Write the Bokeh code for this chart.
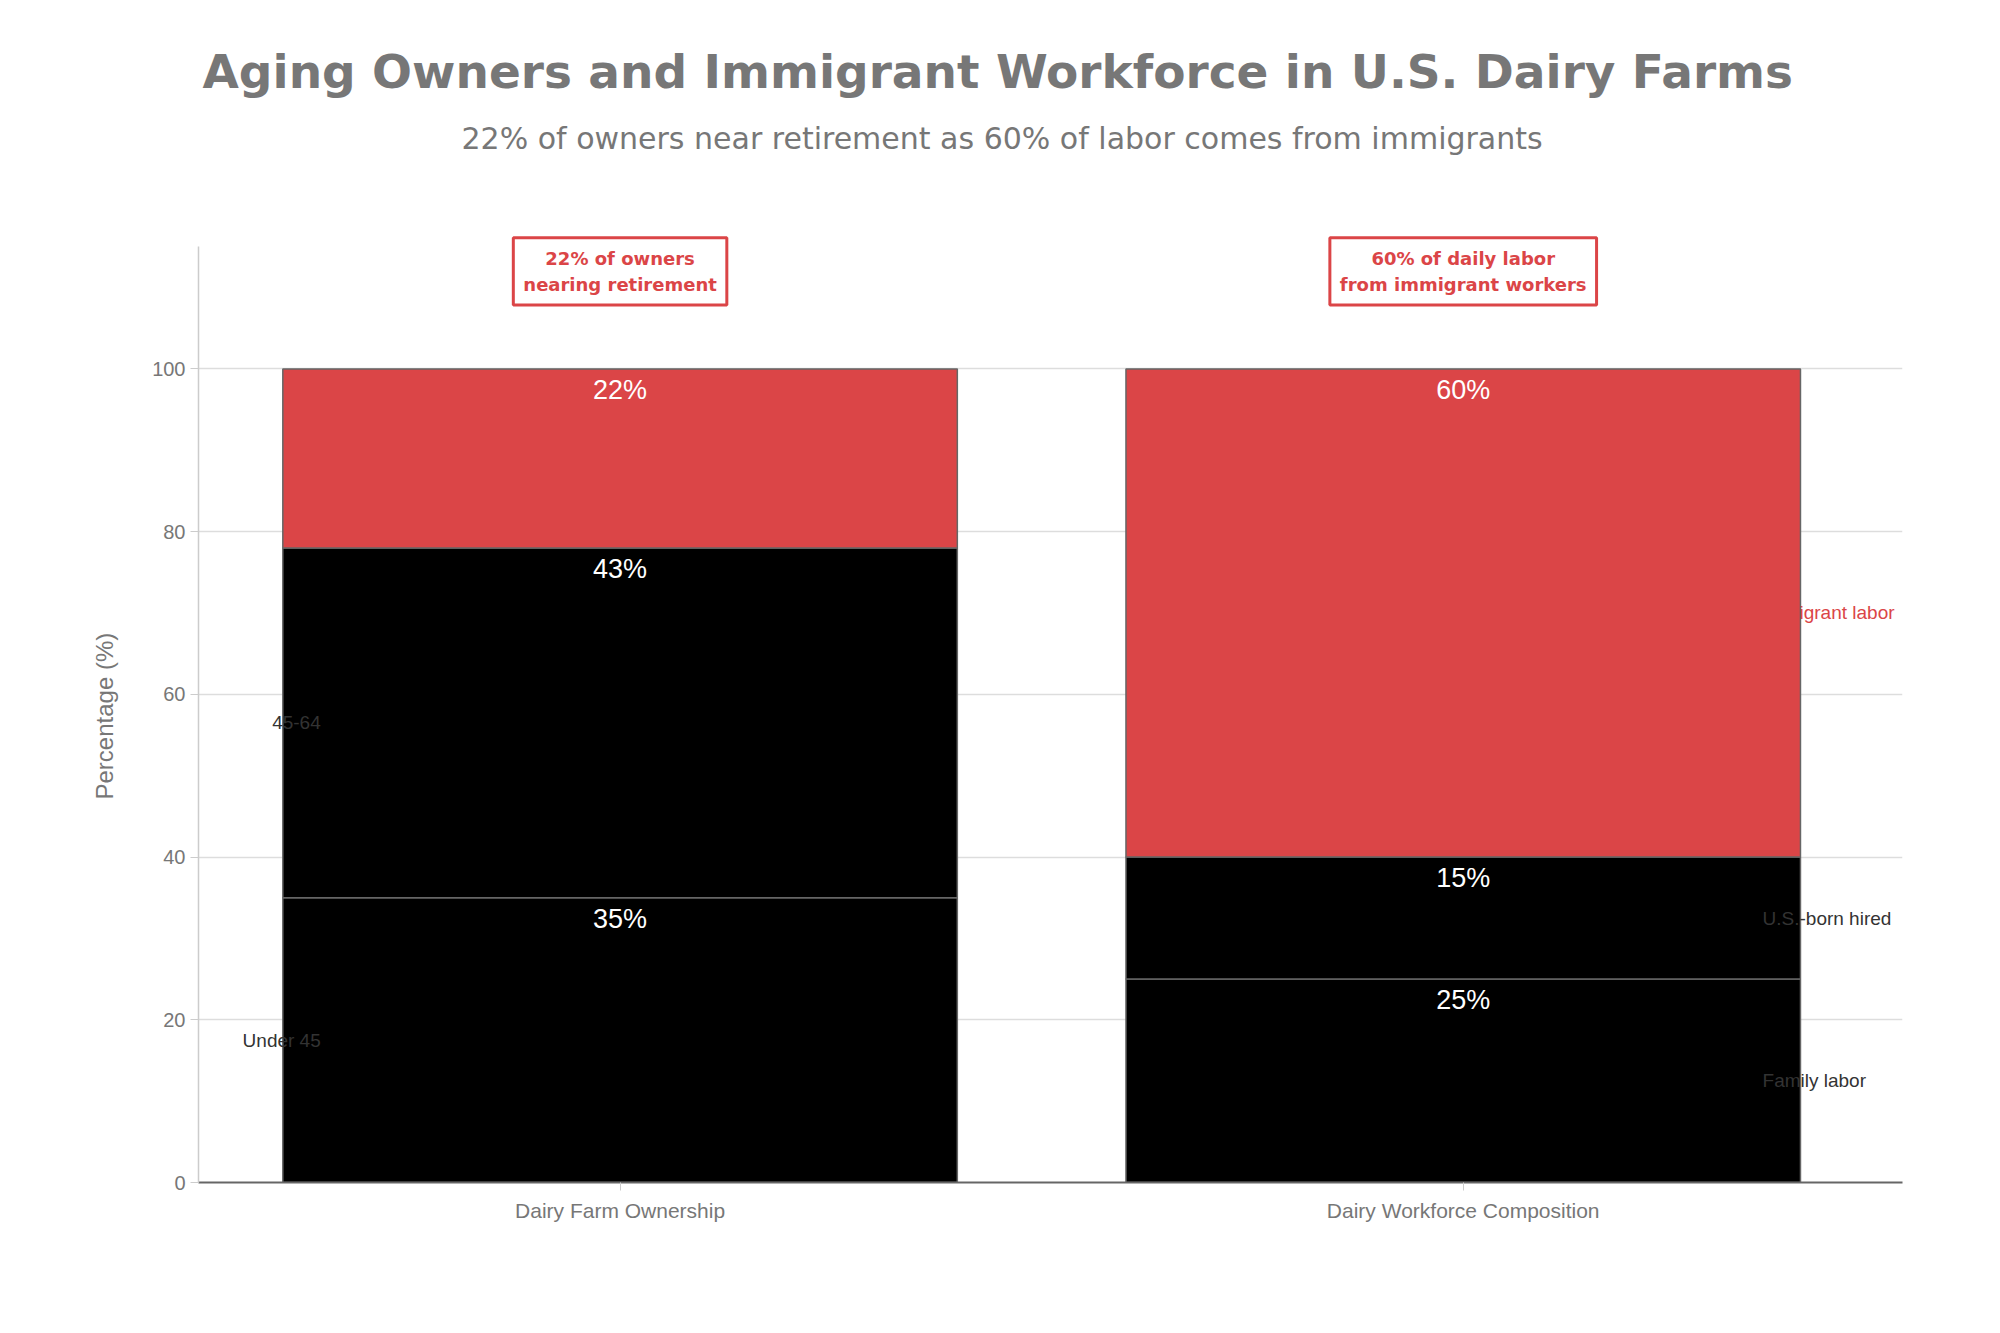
from bokeh.plotting import figure
from bokeh.models import ColumnDataSource, Range1d, FixedTicker, Label, Title
from bokeh.core.properties import value
from bokeh.embed import file_html
from bokeh.resources import INLINE

# ---- data ----
categories = ["Dairy Farm Ownership", "Dairy Workforce Composition"]
ownership_labels = ["Under 45", "45-64", "65+"]
ownership_values = [35, 43, 22]
ownership_highlight = [False, False, True]
workforce_labels = ["Family labor", "U.S.-born hired", "Immigrant labor"]
workforce_values = [25, 15, 60]
workforce_highlight = [False, False, True]
callouts = ["22% of owners\nnearing retirement", "60% of daily labor\nfrom immigrant workers"]
y_ticks = [0, 20, 40, 60, 80, 100]

RED = "#db4547"
BLACK = "#000000"
GRAY = "#777777"
BAR_W = 0.8

# ---- build stacked segments ----
xs, bottoms, tops, colors, pct, seg_names, label_x, label_align, label_col, mids = [], [], [], [], [], [], [], [], [], []
for ci, (labs, vals, hl) in enumerate([(ownership_labels, ownership_values, ownership_highlight),
                                       (workforce_labels, workforce_values, workforce_highlight)]):
    base = 0
    for lab, v, h in zip(labs, vals, hl):
        xs.append(ci)
        bottoms.append(base)
        tops.append(base + v)
        colors.append(RED if h else BLACK)
        pct.append(f"{v}%")
        seg_names.append(lab)
        mids.append(base + v / 2)
        if ci == 0:
            label_x.append(ci - BAR_W / 2 + 0.045)
            label_align.append("right")
        else:
            label_x.append(ci + BAR_W / 2 - 0.045)
            label_align.append("left")
        label_col.append(RED if h else "#333333")
        base += v

src = ColumnDataSource(dict(x=xs, bottom=bottoms, top=tops, color=colors, pct=pct,
                            name=seg_names, lx=label_x, align=label_align, lcol=label_col, mid=mids))

p = figure(width=1980, height=1310, output_backend="svg", toolbar_location=None,
           x_range=Range1d(-0.5, 1.521), y_range=Range1d(0, 125))
p.min_border_left = 198
p.min_border_right = 78
p.min_border_bottom = 128
p.min_border_top = 165
p.outline_line_color = None
p.background_fill_color = "white"

sub = Title(text="22% of owners near retirement as 60% of labor comes from immigrants",
            align="left", offset=263, text_font="DejaVu Sans", text_font_size="30px",
            text_font_style="normal", text_color=GRAY, standoff=20)
p.add_layout(sub, "above")
ttl = Title(text="Aging Owners and Immigrant Workforce in U.S. Dairy Farms",
            align="left", offset=4, text_font="DejaVu Sans", text_font_size="47px",
            text_font_style="bold", text_color=GRAY, standoff=20)
p.add_layout(ttl, "above")

p.vbar(x="x", bottom="bottom", top="top", width=BAR_W, fill_color="color",
       line_color="#666666", line_width=1.5, source=src)

p.text(x="x", y="top", text="pct", source=src, text_align="center", text_baseline="middle",
       y_offset=21, text_color="white", text_font=value("Liberation Sans"), text_font_size="27px")

p.text(x="lx", y="mid", text="name", source=src, text_align="align", text_baseline="middle",
       text_color="lcol", text_font=value("Liberation Sans"), text_font_size="19px")

for i, c in enumerate(callouts):
    p.add_layout(Label(x=i, y=112, text=c, text_align="center", text_baseline="middle",
                       text_font="DejaVu Sans", text_font_style="bold", text_font_size="18px",
                       text_line_height=1.25,
                       text_color=RED, background_fill_color="white", border_line_color=RED,
                       border_line_width=3, padding=10))

# axes
p.xaxis.ticker = FixedTicker(ticks=list(range(len(categories))))
p.xaxis.major_label_overrides = {i: c for i, c in enumerate(categories)}
p.xaxis.major_label_text_font = "Liberation Sans"
p.xaxis.major_label_text_font_size = "21px"
p.xaxis.major_label_text_color = GRAY
p.xaxis.axis_line_color = "#666666"
p.xaxis.axis_line_width = 2
p.xaxis.major_tick_line_color = "#cccccc"
p.xaxis.major_tick_out = 8
p.xaxis.major_tick_in = 0
p.xaxis.minor_tick_line_color = None
p.xaxis.major_label_standoff = 8

p.yaxis.ticker = FixedTicker(ticks=y_ticks)
p.yaxis.bounds = (0, 115)
p.yaxis.major_label_text_font = "Liberation Sans"
p.yaxis.major_label_text_font_size = "20px"
p.yaxis.major_label_text_color = GRAY
p.yaxis.axis_line_color = "#cccccc"
p.yaxis.axis_line_width = 1.5
p.yaxis.major_tick_line_color = "#cccccc"
p.yaxis.major_tick_out = 8
p.yaxis.major_tick_in = 0
p.yaxis.minor_tick_line_color = None

# y-axis title, centred on the 0-115 axis extent
ylab = Title(text="Percentage (%)", align="left", offset=383, text_font="Liberation Sans",
             text_font_size="24px", text_font_style="normal", text_color=GRAY, standoff=64)
p.add_layout(ylab, "left")

p.xgrid.grid_line_color = None
p.ygrid.ticker = FixedTicker(ticks=y_ticks)
p.ygrid.grid_line_color = "#dddddd"
p.ygrid.grid_line_width = 1.5

open("out.html", "w").write(file_html(p, INLINE))
